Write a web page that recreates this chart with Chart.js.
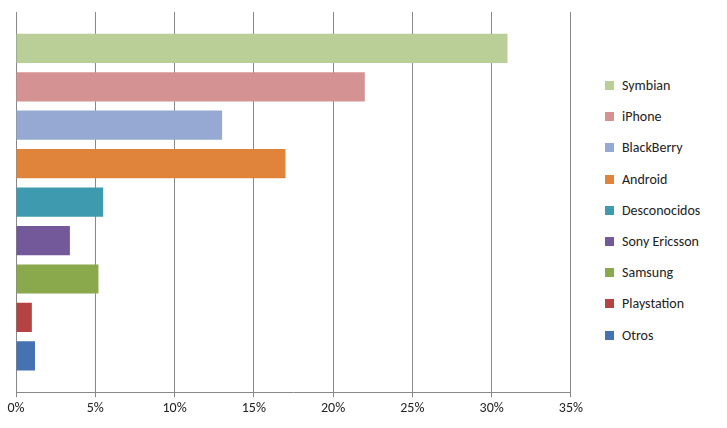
<!DOCTYPE html>
<html><head><meta charset="utf-8">
<script src="https://cdn.jsdelivr.net/npm/chart.js@4/dist/chart.umd.min.js"></script>
<style>
body{margin:0;background:#fff;font-family:Carlito,Calibri,'Liberation Sans',sans-serif}
#wrap{position:absolute;left:0;top:0;width:586px;height:428px}
#legend{position:absolute;left:605px;top:76px;font-size:14px;color:#222}
#legend div{height:31.2px;line-height:20px;white-space:nowrap}
#legend span{display:inline-block;width:9px;height:9px;margin-right:8px;vertical-align:0}
</style>
</head><body><div id="wrap"><canvas id="c"></canvas></div><div id="legend"></div>
<script>
var seriesNames = ["Symbian", "iPhone", "BlackBerry", "Android", "Desconocidos", "Sony Ericsson", "Samsung", "Playstation", "Otros"];
var seriesValues = [31, 22, 13, 17, 5.5, 3.4, 5.2, 1.0, 1.2];
var seriesColors = ["#BACF97", "#D49392", "#95A9D3", "#E0843B", "#3E9AAF", "#74599A", "#8AA84C", "#B54343", "#4572B0"];

var datasets = seriesNames.map(function (name, i) {
    return { label: name, data: [seriesValues[i]], backgroundColor: seriesColors[i],
             categoryPercentage: 0.91, barPercentage: 0.76 };
});

var legend = document.getElementById("legend");
seriesNames.forEach(function (name, i) {
    var d = document.createElement("div");
    d.innerHTML = '<span style="background:' + seriesColors[i] + '"></span>' + name;
    legend.appendChild(d);
});

new Chart(document.getElementById("c"), {
    type: "bar",
    data: { labels: [""], datasets: datasets },
    options: {
        indexAxis: "y",
        responsive: true,
        maintainAspectRatio: false,
        animation: false,
        layout: { padding: { top: 12, right: 0, left: 8, bottom: 8 } },
        plugins: { tooltip: { enabled: false }, legend: { display: false } },
        scales: {
            x: {
                min: 0, max: 35,
                ticks: { stepSize: 5, callback: function (v) { return v + "%"; }, color: "#222",
                         font: { family: "Carlito, Calibri, 'Liberation Sans', sans-serif", size: 14 } },
                grid: { color: "#888", drawTicks: true, tickLength: 5 },
                border: { color: "#888" }
            },
            y: {
                ticks: { display: false },
                grid: { display: false },
                border: { color: "#888" }
            }
        }
    }
});
</script></body></html>
